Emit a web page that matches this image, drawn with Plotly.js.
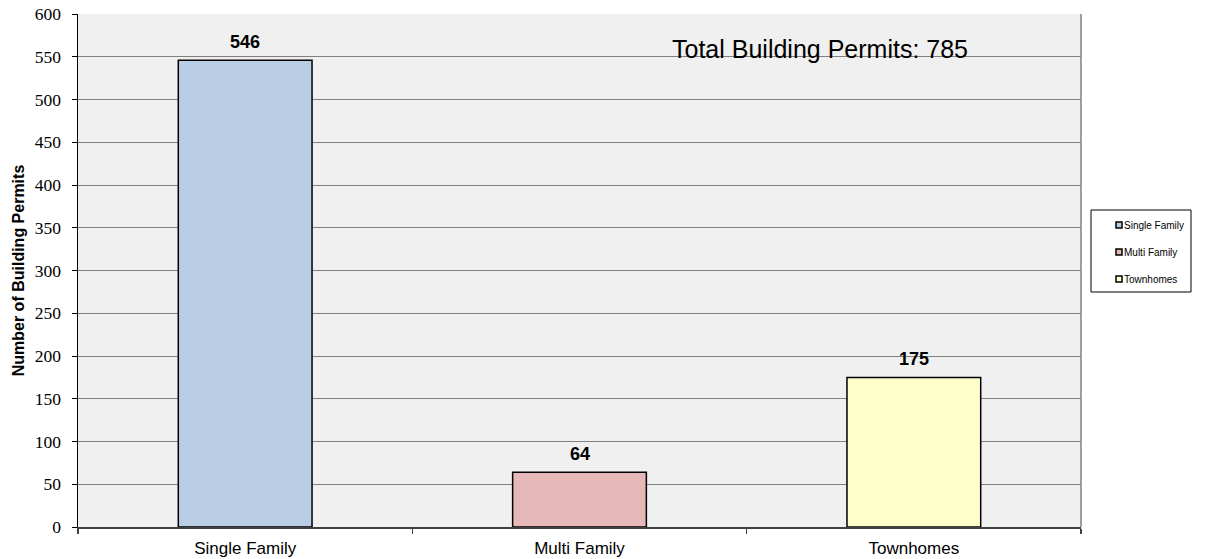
<!DOCTYPE html>
<html><head><meta charset="utf-8">
<script src="https://cdn.plot.ly/plotly-3.0.1.min.js"></script>
<style>html,body{margin:0;padding:0;background:#fff}#chart{width:1215px;height:559px}</style>
</head><body><div id="chart"></div>
<script>
const categories = ["Single Family", "Multi Family", "Townhomes"];
const permits = [546, 64, 175];
const barColors = ["#B9CDE5", "#E6B9B8", "#FFFFCC"];
const yTicks = [0,50,100,150,200,250,300,350,400,450,500,550,600];

const total = permits.reduce((a,b)=>a+b,0);

const traces = [{
  type:'bar', x:categories, y:permits, width:0.4,
  marker:{color:barColors, line:{color:'#000', width:1.5}},
  hoverinfo:'x+y', showlegend:false
}];

const annotations = categories.map((c,i)=>({
  x:c, y:permits[i], xref:'x', yref:'y', text:'<b>'+permits[i]+'</b>',
  showarrow:false, yanchor:'bottom', yshift:6,
  font:{family:'Liberation Sans, Arial', size:18, color:'#000'}
}));
annotations.push({
  xref:'paper', yref:'paper', x:0.590, y:0.932, xanchor:'left', yanchor:'middle',
  text:'Total Building Permits: '+total, showarrow:false,
  font:{family:'Liberation Sans, Arial', size:25, color:'#000'}
});

// custom legend (paper coordinates; plot spans x 78..1081 px, y 14..527 px)
const px = v => (v-78)/1003;
const py = v => (527-v)/513;
const legendY = [225, 252, 279];
const shapes = [
  {type:'line', xref:'paper', yref:'paper', x0:1, x1:1, y0:0, y1:1, line:{color:'#808080', width:1.5}},
  {type:'rect', xref:'paper', yref:'paper', x0:px(1091), x1:px(1191), y0:py(292), y1:py(210),
   line:{color:'#000', width:1}, fillcolor:'#fff'}
];
categories.forEach((c,i)=>{
  shapes.push({type:'rect', xref:'paper', yref:'paper',
    x0:px(1116), x1:px(1122), y0:py(legendY[i]+3), y1:py(legendY[i]-3),
    line:{color:'#000', width:1.5}, fillcolor:barColors[i]});
  annotations.push({xref:'paper', yref:'paper', x:px(1122), y:py(legendY[i]),
    xanchor:'left', yanchor:'middle', showarrow:false, text:c,
    font:{family:'Liberation Sans, Arial', size:10, color:'#000'}});
});

const layout = {
  width:1215, height:559,
  margin:{l:78, r:134, t:14, b:32},
  paper_bgcolor:'#fff', plot_bgcolor:'#F0F0F0',
  bargap:0.6,
  showlegend:false,
  xaxis:{type:'category', categoryorder:'array', categoryarray:categories,
    showline:true, linecolor:'#404040', linewidth:1.5, mirror:false,
    ticks:'outside', tickson:'boundaries', ticklen:5, tickcolor:'#404040', tickwidth:1.5,
    showgrid:false, zeroline:false, ticklabelstandoff:5,
    tickfont:{family:'Liberation Sans, Arial', size:17, color:'#000'}},
  yaxis:{range:[0,600], tickvals:yTicks, ticktext:yTicks.map(String),
    showline:true, linecolor:'#000', linewidth:1.5,
    ticks:'outside', ticklen:5, tickcolor:'#000', ticklabelstandoff:7,
    showgrid:true, gridcolor:'#808080', gridwidth:1, zeroline:false,
    tickfont:{family:'"Liberation Serif", "Times New Roman", serif', size:17.5, color:'#000'},
    title:{text:'<b>Number of Building Permits</b>', standoff:6,
      font:{family:'Liberation Sans, Arial', size:16, color:'#000'}}},
  annotations:annotations,
  shapes:shapes
};

Plotly.newPlot('chart', traces, layout, {displayModeBar:false, staticPlot:true});
</script></body></html>
